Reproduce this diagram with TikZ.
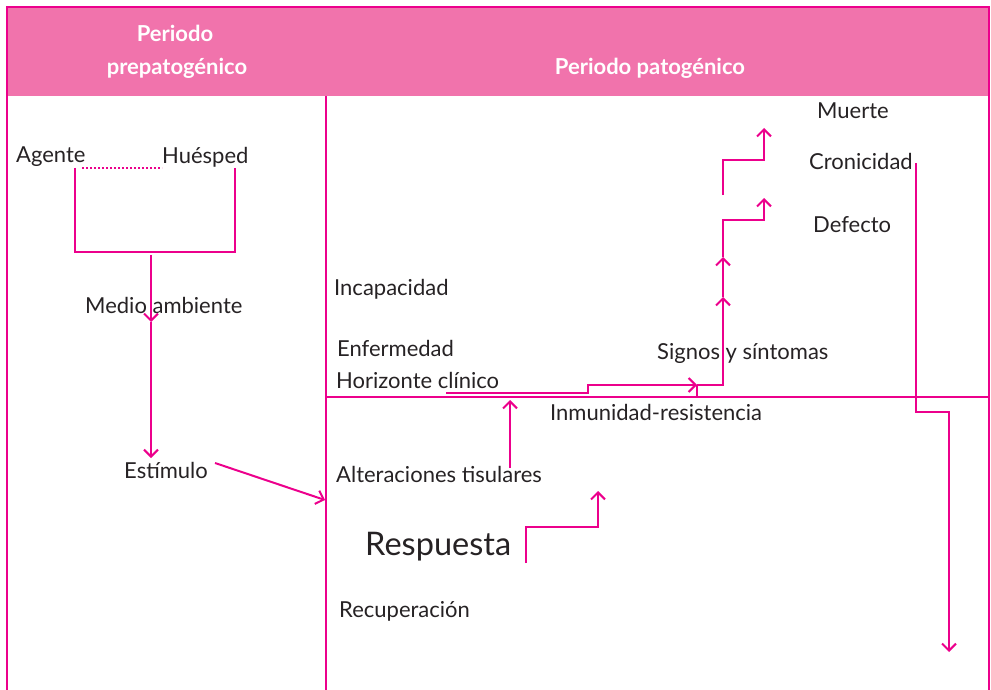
\documentclass[tikz,border=0pt]{standalone}
\usepackage{fontspec}
\setmainfont{Lato}
\usetikzlibrary{arrows.meta}
\definecolor{mag}{RGB}{236,0,140}
\definecolor{hdr}{RGB}{241,115,172}
\definecolor{txt}{RGB}{38,34,36}
\tikzset{
  lbl/.style={anchor=base west, text=txt, font=\fontsize{22}{26}\selectfont, inner sep=0pt},
  big/.style={lbl, font=\fontsize{32.5}{38}\selectfont},
  hd/.style={anchor=base, text=white, font=\fontsize{22}{26}\selectfont\bfseries, inner sep=0pt},
  conn/.style={draw=mag, line width=2pt},
  arr/.style={conn, -{Straight Barb[length=7pt,width=14pt]}},
}
\begin{document}
\begin{tikzpicture}[x=1pt,y=-1pt]
\useasboundingbox (0,0) rectangle (991,690);
% frame
\fill[hdr] (7,7) rectangle (989,96);
\draw[mag, line width=2.5pt] (7,690) -- (7,7) -- (989,7) -- (989,690);
\draw[conn] (326,96) -- (326,690);
\draw[conn] (326,397) -- (989,397);
% header
\node[hd] (h1) at (175,42) {Periodo};
\node[hd] (h2) at (177,75) {prepatogénico};
\node[hd] (h3) at (650,75) {Periodo patogénico};
% left texts
\node[lbl] (agente) at (16,163) {Agente};
\node[lbl] (huesped) at (162,164) {Huésped};
\node[lbl] (medio) at (85,313) {Medio ambiente};
\node[lbl] (estimulo) at (124,478) {Estímulo};
% right texts
\node[lbl] (muerte) at (817,119) {Muerte};
\node[lbl] (cronicidad) at (809,170) {Cronicidad};
\node[lbl] (defecto) at (813,232) {Defecto};
\node[lbl] (incap) at (334,295) {Incapacidad};
\node[lbl] (enferm) at (337,356) {Enfermedad};
\node[lbl] (signos) at (657,359) {Signos y síntomas};
\node[lbl] (horiz) at (336,388) {Horizonte clínico};
\node[lbl] (inmun) at (550,420) {Inmunidad-resistencia};
\node[lbl] (alter) at (336,482) {Alteraciones tisulares};
\node[big] (resp) at (365,555) {Respuesta};
\node[lbl] (recup) at (339,617) {Recuperación};
% coordinates
\coordinate (dA) at (82,168);
\coordinate (dB) at (162,168);
\coordinate (ag) at (75,168);
\coordinate (agb) at (75,252);
\coordinate (hub) at (235,252);
\coordinate (hu) at (235,168);
\coordinate (m0) at (151,255);
\coordinate (m1) at (151,322);
\coordinate (m2) at (151,458);
\coordinate (e0) at (215,463);
\coordinate (e1) at (325,500);
\coordinate (hz0) at (446,393);
\coordinate (hz1) at (588,393);
\coordinate (hz2) at (588,385);
\coordinate (hz3) at (697,385);
\coordinate (hz4) at (697,397);
\coordinate (s0) at (723,385);
\coordinate (s1) at (723,297);
\coordinate (s2) at (723,257);
\coordinate (s3) at (723,220);
\coordinate (s4) at (764,220);
\coordinate (s5) at (764,198);
\coordinate (t0) at (723,195);
\coordinate (t1) at (723,160);
\coordinate (t2) at (764,160);
\coordinate (t3) at (764,128);
\coordinate (c0) at (916,163);
\coordinate (c1) at (916,412);
\coordinate (c2) at (949,412);
\coordinate (c3) at (949,652);
\coordinate (a0) at (510,468);
\coordinate (a1) at (510,400);
\coordinate (r0) at (526,563);
\coordinate (r1) at (526,527);
\coordinate (r2) at (598,527);
\coordinate (r3) at (598,491);
% connectors
\draw[mag, line width=1.5pt, dash pattern=on 2pt off 2pt] (dA) -- (dB);
\draw[conn] (ag) -- (agb) -- (hub) -- (hu);
\draw[arr] (m0) -- (m1);
\draw[arr] (m1) -- (m2);
\draw[arr] (e0) -- (e1);
\draw[arr] (hz0) -- (hz1) -- (hz2) -- (hz3);
\draw[conn] (hz3) -- (hz4);
\draw[arr] (hz3) -- (s0) -- (s1);
\draw[arr] (s1) -- (s2);
\draw[arr] (s2) -- (s3) -- (s4) -- (s5);
\draw[arr] (t0) -- (t1) -- (t2) -- (t3);
\draw[arr] (c0) -- (c1) -- (c2) -- (c3);
\draw[arr] (a0) -- (a1);
\draw[arr] (r0) -- (r1) -- (r2) -- (r3);
\end{tikzpicture}
\end{document}
